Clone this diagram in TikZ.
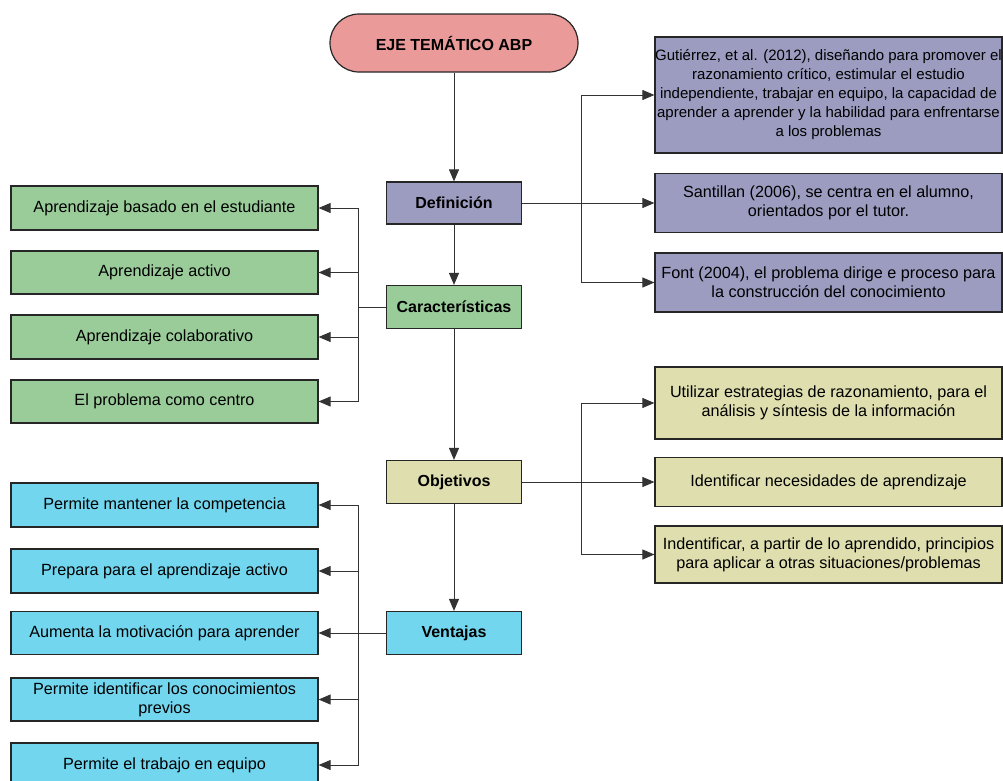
\documentclass[tikz,border=0pt]{standalone}
\usepackage{fontspec}
\setmainfont{Liberation Sans}
\usetikzlibrary{arrows.meta}
\definecolor{cTitle}{HTML}{EB9A9A}
\definecolor{cDef}{HTML}{9C9CC1}
\definecolor{cGreen}{HTML}{9ACC9A}
\definecolor{cYellow}{HTML}{DEDEAF}
\definecolor{cBlue}{HTML}{72D6EF}
\begin{document}
\begin{tikzpicture}[x=1pt,y=-1pt,
 box/.style={draw=black!85,line width=1.2pt,inner sep=0pt,align=center,font=\fontsize{16.2}{19}\selectfont},
 smallbox/.style={box,font=\fontsize{15}{19}\selectfont},
 hbox/.style={box,font=\fontsize{16}{19}\selectfont\bfseries},
 arr/.style={draw=black!80,line width=0.9pt,-{Triangle[length=12pt,width=10pt]}},
 ln/.style={draw=black!80,line width=0.9pt}]
\useasboundingbox (0,0) rectangle (1003,780);
\clip (0,0) rectangle (1003,780);
% central column
\node[hbox,fill=cTitle,rounded corners=29pt,minimum width=248pt,minimum height=58pt] (title) at (454,43) {EJE TEMÁTICO ABP};
\node[hbox,fill=cDef,minimum width=135pt,minimum height=42pt] (def) at (454,203) {Definición};
\node[hbox,fill=cGreen,minimum width=135pt,minimum height=43pt] (car) at (454,307) {Características};
\node[hbox,fill=cYellow,minimum width=135pt,minimum height=43pt] (obj) at (454,482) {Objetivos};
\node[hbox,fill=cBlue,minimum width=135pt,minimum height=43pt] (ven) at (454,633) {Ventajas};
% definition boxes
\node[smallbox,fill=cDef,minimum width=347pt,minimum height=116pt] (d1) at (828.5,95) {Gutiérrez, et al. (2012), diseñando para promover el\\razonamiento crítico, estimular el estudio\\independiente, trabajar en equipo, la capacidad de\\aprender a aprender y la habilidad para enfrentarse\\a los problemas};
\node[box,fill=cDef,minimum width=347pt,minimum height=59pt] (d2) at (828.5,203) {Santillan (2006), se centra en el alumno,\\orientados por el tutor.};
\node[box,fill=cDef,minimum width=347pt,minimum height=59pt] (d3) at (828.5,282.5) {Font (2004), el problema dirige e proceso para\\la construcción del conocimiento};
% objective boxes
\node[box,fill=cYellow,minimum width=347pt,minimum height=72pt] (o1) at (828.5,403) {Utilizar estrategias de razonamiento, para el\\análisis y síntesis de la información};
\node[box,fill=cYellow,minimum width=347pt,minimum height=49pt] (o2) at (828.5,482) {Identificar necesidades de aprendizaje};
\node[box,fill=cYellow,minimum width=347pt,minimum height=57pt] (o3) at (828.5,554.5) {Indentificar, a partir de lo aprendido, principios\\para aplicar a otras situaciones/problemas};
% characteristics boxes
\node[box,fill=cGreen,minimum width=307pt,minimum height=44pt] (c1) at (164.5,208) {Aprendizaje basado en el estudiante};
\node[box,fill=cGreen,minimum width=307pt,minimum height=43pt] (c2) at (164.5,272.5) {Aprendizaje activo};
\node[box,fill=cGreen,minimum width=307pt,minimum height=44pt] (c3) at (164.5,337) {Aprendizaje colaborativo};
\node[box,fill=cGreen,minimum width=307pt,minimum height=43pt] (c4) at (164.5,401.5) {El problema como centro};
% advantages boxes
\node[box,fill=cBlue,minimum width=307pt,minimum height=44pt] (v1) at (164.5,505) {Permite mantener la competencia};
\node[box,fill=cBlue,minimum width=307pt,minimum height=44pt] (v2) at (164.5,571) {Prepara para el aprendizaje activo};
\node[box,fill=cBlue,minimum width=307pt,minimum height=43pt] (v3) at (164.5,633) {Aumenta la motivación para aprender};
\node[box,fill=cBlue,minimum width=307pt,minimum height=43pt] (v4) at (164.5,699.5) {Permite identificar los conocimientos\\previos};
\node[box,fill=cBlue,minimum width=307pt,minimum height=44pt] (v5) at (164.5,765) {Permite el trabajo en equipo};
% bus coordinates
\coordinate (bd) at (581,203);
\coordinate (bo) at (581,482);
\coordinate (bc) at (358,307);
\coordinate (bv) at (358,633);
% vertical spine
\draw[arr] (title) -- (def);
\draw[arr] (def) -- (car);
\draw[arr] (car) -- (obj);
\draw[arr] (obj) -- (ven);
% definition branches
\draw[arr] (def.east) -- (d2.west);
\draw[arr] (bd) |- (d1.west);
\draw[arr] (bd) |- (d3.west);
% objective branches
\draw[arr] (obj.east) -- (o2.west);
\draw[arr] (bo) |- (o1.west);
\draw[arr] (bo) |- (o3.west);
% characteristics branches
\draw[ln] (car.west) -- (bc);
\draw[arr] (bc) |- (c1.east);
\draw[arr] (bc) |- (c2.east);
\draw[arr] (bc) |- (c3.east);
\draw[arr] (bc) |- (c4.east);
% advantages branches
\draw[arr] (ven.west) -- (v3.east);
\draw[arr] (bv) |- (v1.east);
\draw[arr] (bv) |- (v2.east);
\draw[arr] (bv) |- (v4.east);
\draw[arr] (bv) |- (v5.east);
\end{tikzpicture}
\end{document}
